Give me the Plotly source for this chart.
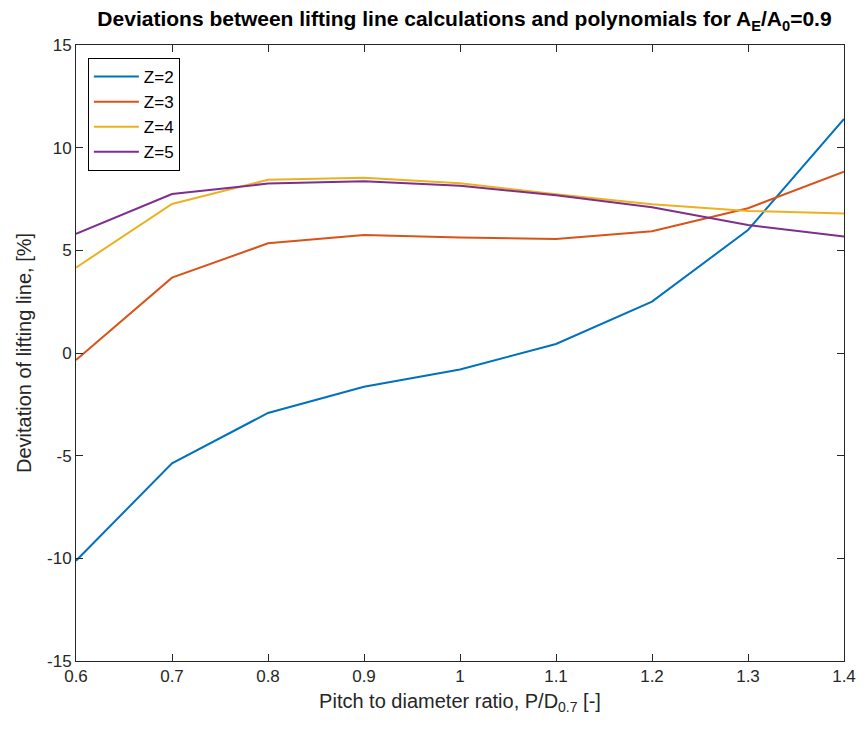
import plotly.graph_objects as go

pitch = [0.6, 0.7, 0.8, 0.9, 1.0, 1.1, 1.2, 1.3, 1.4]
z2 = [-10.12, -5.37, -2.92, -1.64, -0.80, 0.44, 2.50, 5.99, 11.40]
z3 = [-0.34, 3.67, 5.34, 5.75, 5.63, 5.55, 5.93, 7.05, 8.83]
z4 = [4.16, 7.26, 8.44, 8.54, 8.27, 7.73, 7.24, 6.92, 6.79]
z5 = [5.80, 7.74, 8.25, 8.36, 8.15, 7.68, 7.10, 6.23, 5.67]
names = ["Z=2", "Z=3", "Z=4", "Z=5"]
colors = ["#0072BD", "#D95319", "#EDB120", "#7E2F8E"]
xticks = [0.6, 0.7, 0.8, 0.9, 1.0, 1.1, 1.2, 1.3, 1.4]
xticklabels = ["0.6", "0.7", "0.8", "0.9", "1", "1.1", "1.2", "1.3", "1.4"]
yticks = [-15, -10, -5, 0, 5, 10, 15]
yticklabels = ["-15", "-10", "-5", "0", "5", "10", "15"]

fig = go.Figure()
for name, ys, c in zip(names, [z2, z3, z4, z5], colors):
    fig.add_trace(go.Scatter(x=pitch, y=ys, mode="lines", name=name,
                             line=dict(color=c, width=2)))

font = "Liberation Sans, Arial, Helvetica, sans-serif"
axcol = "#262626"
axis_common = dict(showgrid=False, zeroline=False, showline=True, linecolor=axcol,
                   linewidth=1, mirror="ticks", ticks="inside", ticklen=7,
                   tickcolor=axcol, tickwidth=1,
                   tickfont=dict(family=font, size=17, color=axcol))

fig.update_layout(
    width=868, height=730,
    margin=dict(l=76, r=15, t=45, b=69),
    paper_bgcolor="white", plot_bgcolor="white",
    title=dict(text="<b>Deviations between lifting line calculations and polynomials for A<sub>E</sub>/A<sub>0</sub>=0.9</b>",
               x=(76 + 853) / 2 / 868, xanchor="center", y=1 - 19 / 730, yanchor="middle",
               font=dict(family=font, size=21, color="black")),
    xaxis=dict(range=[0.6, 1.4], tickvals=xticks, ticktext=xticklabels,
               title=dict(text="Pitch to diameter ratio, P/D<sub>0.7</sub> [-]",
                          font=dict(family=font, size=20, color=axcol), standoff=8),
               **axis_common),
    yaxis=dict(range=[-15, 15], tickvals=yticks, ticktext=yticklabels,
               title=dict(text="Devitation of lifting line, [%]",
                          font=dict(family=font, size=20, color=axcol), standoff=10),
               **axis_common),
    legend=dict(x=(88 - 76) / 777, y=(661 - 58) / 616, xanchor="left", yanchor="top",
                bordercolor="black", borderwidth=1, bgcolor="white",
                font=dict(family=font, size=17, color="black"),
                itemwidth=45, tracegroupgap=0),
    showlegend=True,
)

fig.write_html("out.html")
